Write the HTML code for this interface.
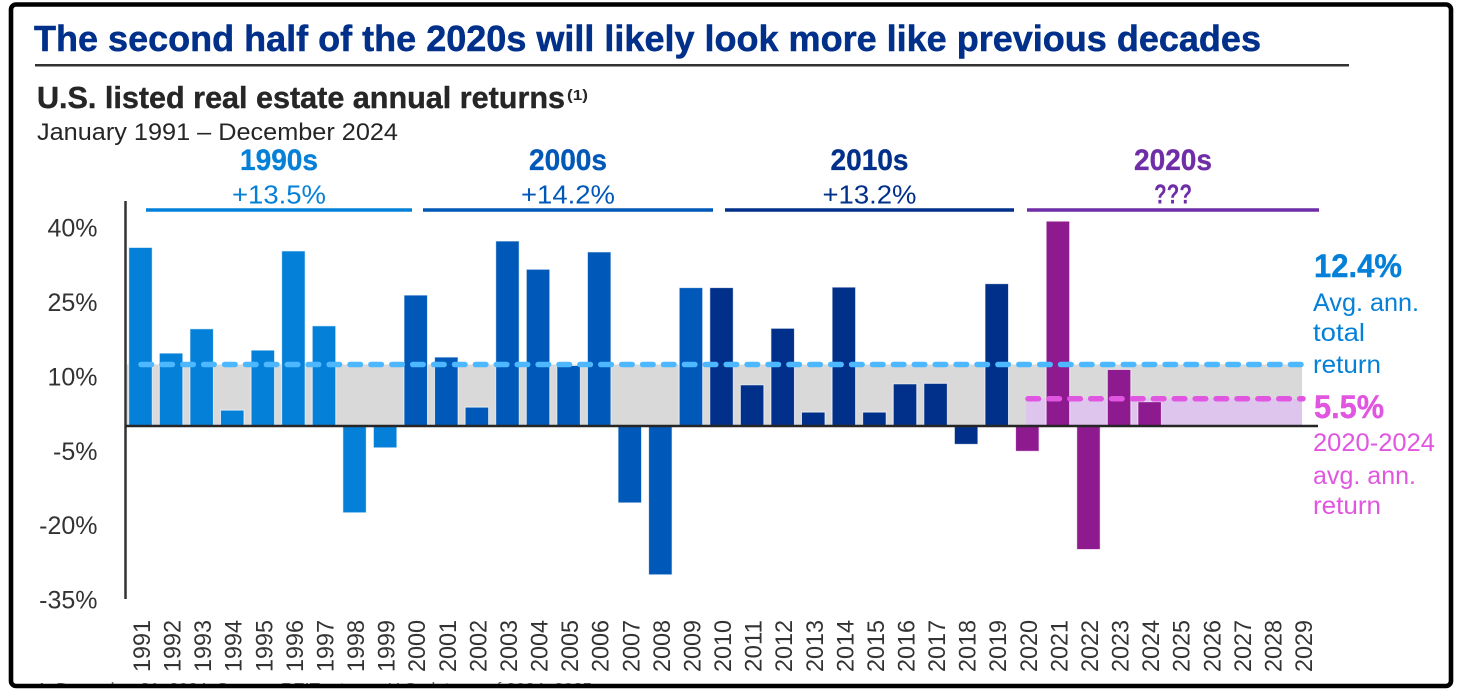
<!DOCTYPE html>
<html lang="en">
<head>
<meta charset="utf-8">
<title>U.S. listed real estate annual returns</title>
<style>
html,body{margin:0;padding:0;background:#fff;}
body{width:1462px;height:690px;overflow:hidden;}
svg{display:block;font-family:"Liberation Sans",sans-serif;}
</style>
</head>
<body>
<svg id="chart" width="1462" height="690" viewBox="0 0 1462 690" xmlns="http://www.w3.org/2000/svg">
  <rect x="0" y="0" width="1462" height="690" fill="#fff"/>
  <defs><clipPath id="foot-clip"><rect x="14" y="670" width="1430" height="14"/></clipPath></defs>
  <text x="34" y="51" font-size="36" font-weight="700" fill="#00308a" stroke="#00308a" stroke-width="0.5" textLength="1227" lengthAdjust="spacingAndGlyphs">The second half of the 2020s will likely look more like previous decades</text>
  <rect x="35" y="64" width="1314" height="2.5" fill="#333"/>
  <text x="37" y="108" font-size="31" font-weight="700" fill="#262626" stroke="#262626" stroke-width="0.4" textLength="528" lengthAdjust="spacingAndGlyphs">U.S. listed real estate annual returns</text>
  <text x="567" y="100" font-size="15" font-weight="700" fill="#262626" textLength="21" lengthAdjust="spacingAndGlyphs">(1)</text>
  <text x="37" y="140" font-size="24.5" fill="#262626" textLength="361" lengthAdjust="spacingAndGlyphs">January 1991 – December 2024</text>
  <text x="37" y="693" font-size="15" fill="#666" clip-path="url(#foot-clip)" textLength="560" lengthAdjust="spacingAndGlyphs">1. December 31, 2024. Source: REIT returns, U.S. data as of 2024, 2025.</text>
  <g id="shades"></g>
  <g id="bars"></g>
  <g id="axes"></g>
  <g id="avg-lines"></g>
  <g id="decades"></g>
  <g id="side-labels">
    <text x="1314" y="277" font-size="32" font-weight="700" fill="#0580d8" stroke="#0580d8" stroke-width="0.4" textLength="88" lengthAdjust="spacingAndGlyphs">12.4%</text>
    <text x="1313" y="311" font-size="25" fill="#0580d8" textLength="106" lengthAdjust="spacingAndGlyphs">Avg. ann.</text>
    <text x="1313" y="341" font-size="25" fill="#0580d8" textLength="52" lengthAdjust="spacingAndGlyphs">total</text>
    <text x="1313" y="373" font-size="25" fill="#0580d8" textLength="68" lengthAdjust="spacingAndGlyphs">return</text>
    <text x="1314" y="418" font-size="32" font-weight="700" fill="#e056e0" stroke="#e056e0" stroke-width="0.4" textLength="70" lengthAdjust="spacingAndGlyphs">5.5%</text>
    <text x="1313" y="451" font-size="25" fill="#e056e0" textLength="122" lengthAdjust="spacingAndGlyphs">2020-2024</text>
    <text x="1313" y="484" font-size="25" fill="#e056e0" textLength="103" lengthAdjust="spacingAndGlyphs">avg. ann.</text>
    <text x="1313" y="514" font-size="25" fill="#e056e0" textLength="68" lengthAdjust="spacingAndGlyphs">return</text>
  </g>
  <rect x="11" y="4.5" width="1440" height="681.5" rx="5" fill="none" stroke="#000" stroke-width="4.6"/>
</svg>
<script>
const years = [1991,1992,1993,1994,1995,1996,1997,1998,1999,2000,2001,2002,2003,2004,2005,2006,2007,2008,2009,2010,2011,2012,2013,2014,2015,2016,2017,2018,2019,2020,2021,2022,2023,2024,2025,2026,2027,2028,2029];
const returns = [36,14.7,19.6,3.2,15.3,35.3,20.2,-17.5,-4.4,26.4,13.9,3.8,37.3,31.6,12.2,35.1,-15.5,-30,27.9,27.9,8.3,19.7,2.8,28,2.8,8.5,8.6,-3.7,28.7,-5.1,41.3,-24.9,11.4,4.9];
const yTicks = [40,25,10,-5,-20,-35];
const decadeNames = ["1990s","2000s","2010s","2020s"];
const decadeReturns = ["+13.5%","+14.2%","+13.2%","???"];
const decadeColors = ["#0580d8","#0058b8","#00308a","#8e1a90"];
const decadeHeaderColors = ["#0580d8","#0058b8","#00308a","#6f2da8"];
const longRunAverage = 12.4;
const recentAverage = 5.5;

const NS = "http://www.w3.org/2000/svg";
const xScale = i => 140.5 + i * 30.58;
const yScale = v => 426 - v * 4.96;
const yearIndex = y => years.indexOf(y);
function mk(parent, tag, attrs, txt){
  const el = document.createElementNS(NS, tag);
  for (const k in attrs) el.setAttribute(k, attrs[k]);
  if (txt !== undefined) el.textContent = txt;
  parent.appendChild(el);
  return el;
}
const shades = document.getElementById("shades");
const barsG = document.getElementById("bars");
const axesG = document.getElementById("axes");
const avgG = document.getElementById("avg-lines");
const decG = document.getElementById("decades");

// shaded average bands
const shadeLong = mk(shades, "rect", {x:127, y:yScale(longRunAverage), width:1175, height:yScale(0)-yScale(longRunAverage), fill:"#d9d9d9"});


const recentStart = xScale(yearIndex(2020));
const shadeRecent = mk(shades, "rect", {x:recentStart-1.4, y:yScale(recentAverage), width:1302-recentStart+1.4, height:yScale(0)-yScale(recentAverage), fill:"#dec5ee"});



// bars
returns.forEach((v, i) => {
  const d = Math.floor((years[i] - 1990) / 10);
  const top = yScale(Math.max(v, 0));
  const h = Math.abs(yScale(v) - yScale(0));
  const bar = mk(barsG, "rect", {x:xScale(i)-11.75, y:top, width:23.5, height:h, fill:decadeColors[d], stroke:"#fff", "stroke-opacity":0.7, "stroke-width":1});
  
  
});

// axes
const yAxis = mk(axesG, "line", {x1:125.5, x2:125.5, y1:201, y2:599, stroke:"#333", "stroke-width":2.5});


const xAxis = mk(axesG, "line", {x1:125, x2:1318, y1:yScale(0), y2:yScale(0), stroke:"#262626", "stroke-width":2.5});


yTicks.forEach(t => {
  const lab = mk(axesG, "text", {x:97.5, y:yScale(t)+9, "font-size":25, fill:"#333", "text-anchor":"end"}, t + "%");
  
  
});
years.forEach((y, i) => {
  const cx = xScale(i) + 9.5;
  const lab = mk(axesG, "text", {x:0, y:0, transform:"translate(" + cx + ",672) rotate(-90)", "font-size":24, fill:"#333", textLength:52, lengthAdjust:"spacingAndGlyphs"}, String(y));
  
  
});

// average lines
const longLine = mk(avgG, "line", {x1:141, x2:1303, y1:yScale(longRunAverage), y2:yScale(longRunAverage), stroke:"#4db8ff", "stroke-width":5.5, "stroke-linecap":"round", "stroke-dasharray":"10.5 10.4"});


const recentLine = mk(avgG, "line", {x1:1028, x2:1303, y1:yScale(recentAverage), y2:yScale(recentAverage), stroke:"#e056e0", "stroke-width":5.5, "stroke-linecap":"round", "stroke-dasharray":"10.5 10.4"});



// decade headers
decadeNames.forEach((n, i) => {
  const ruleStart = 146 + [0, 277, 579, 881][i];
  const ruleEnd = 412 + [0, 301, 602, 907][i];
  const cx = (ruleStart + ruleEnd) / 2;
  const c = decadeHeaderColors[i];
  const head = mk(decG, "text", {x:cx, y:170, "font-size":30, "font-weight":700, fill:c, stroke:c, "stroke-width":0.3, "text-anchor":"middle", textLength:78, lengthAdjust:"spacingAndGlyphs"}, n);
  
  
  const isUnknown = i === 3;
  const val = mk(decG, "text", {x:cx, y:203.5, "font-size":isUnknown ? 28 : 26, fill:c, "font-weight":isUnknown ? 700 : 400, "text-anchor":"middle", textLength:isUnknown ? 38 : 94, lengthAdjust:"spacingAndGlyphs"}, decadeReturns[i]);
  
  
  const rule = mk(decG, "line", {x1:ruleStart, x2:ruleEnd, y1:210, y2:210, stroke:c, "stroke-width":3.5});
  
  
});
</script>
</body>
</html>
